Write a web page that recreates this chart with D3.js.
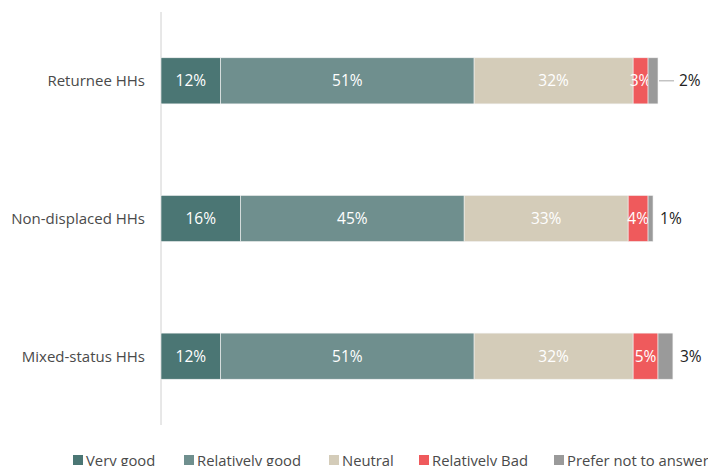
<!DOCTYPE html>
<html><head><meta charset="utf-8">
<script src="https://cdn.jsdelivr.net/npm/d3@7"></script>
<style>body{margin:0;background:#fff;} svg{display:block;font-family:"Open Sans","Noto Sans",sans-serif;}</style>
</head><body>
<svg id="c" width="708" height="466"></svg>
<script>
const categories = ["Returnee HHs", "Non-displaced HHs", "Mixed-status HHs"];
const seriesNames = ["Very good", "Relatively good", "Neutral", "Relatively Bad", "Prefer not to answer"];
const veryGood = [12, 16, 12];
const relativelyGood = [51, 45, 51];
const neutral = [32, 33, 32];
const relativelyBad = [3, 4, 5];
const preferNot = [2, 1, 3];
const colors = ["#4b7674", "#6f8f8e", "#d4ccb9", "#ef5a5c", "#9a9a9a"];

const series = [veryGood, relativelyGood, neutral, relativelyBad, preferNot];
const svg = d3.select("#c");
const x = d3.scaleLinear().domain([0, 100]).range([161, 658]);
const y = d3.scaleBand().domain(categories).range([12, 425]).paddingInner(0.665).paddingOuter(0.3325);

svg.append("line").attr("x1", 161).attr("x2", 161).attr("y1", 12).attr("y2", 425)
  .attr("stroke", "#d0d0d0").attr("stroke-width", 1);

categories.forEach((cat, i) => {
  let acc = 0;
  series.forEach((s, j) => {
    const v = s[i];
    const x0 = x(acc), x1 = x(acc + v);
    svg.append("rect").attr("x", x0).attr("y", y(cat)).attr("width", x1 - x0).attr("height", y.bandwidth())
      .attr("fill", colors[j]).attr("stroke", "#f3f3f3").attr("stroke-width", 0.6);
    const cy = y(cat) + y.bandwidth() / 2;
    if (j < series.length - 1) {
      svg.append("text").attr("x", (x0 + x1) / 2).attr("y", cy).attr("dy", "0.36em")
        .attr("text-anchor", "middle").attr("fill", "#fff").attr("font-size", 15.5).text(v + "%");
    } else {
      const lead = i === 0;
      if (lead) {
        svg.append("line").attr("x1", x1 + 1).attr("x2", x1 + 16).attr("y1", cy).attr("y2", cy)
          .attr("stroke", "#a6a6a6").attr("stroke-width", 1);
      }
      svg.append("text").attr("x", x1 + (lead ? 21 : 7)).attr("y", cy).attr("dy", "0.36em")
        .attr("fill", "#222").attr("font-size", 15.5).text(v + "%");
    }
    acc += v;
  });
  svg.append("text").attr("x", 145).attr("y", y(cat) + y.bandwidth() / 2).attr("dy", "0.36em")
    .attr("text-anchor", "end").attr("fill", "#4a4a4a").attr("font-size", 15).text(cat);
});

const legendX = [73, 184, 329, 419, 554];
seriesNames.forEach((n, j) => {
  const g = svg.append("g").attr("transform", `translate(${legendX[j]},0)`);
  g.append("rect").attr("x", 0).attr("y", 455).attr("width", 10).attr("height", 10).attr("fill", colors[j]);
  g.append("text").attr("x", 13).attr("y", 466).attr("fill", "#4a4a4a").attr("font-size", 14.8).text(n);
});
</script>
</body></html>
